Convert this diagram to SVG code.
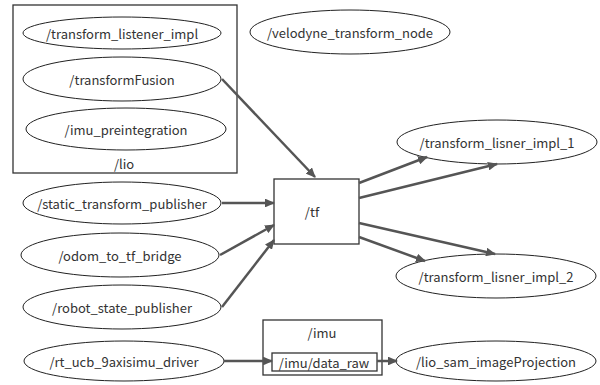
<svg xmlns="http://www.w3.org/2000/svg" width="600" height="385" viewBox="0 0 600 385">
<style>
text{font-family:"Noto Sans CJK JP","Noto Sans",sans-serif;font-size:13px;fill:#333;text-anchor:middle;dominant-baseline:central}
.n{fill:#fff;stroke:#222;stroke-width:1}
.b{fill:none;stroke:#333;stroke-width:1.3}
.t{fill:#fff;stroke:#333;stroke-width:1.3}
.e{fill:none;stroke:#555;stroke-width:2.5;marker-end:url(#a)}
</style>
<defs>
<marker id="a" viewBox="0 0 10 10" refX="9" refY="5" markerWidth="4" markerHeight="3.5" orient="auto" markerUnits="strokeWidth" preserveAspectRatio="none">
<path d="M0,0L10,5L0,10z" fill="#555"/>
</marker>
</defs>
<rect width="600" height="385" fill="#fff"/>
<g id="cluster_lio">
<rect class="b" x="13" y="5" width="224" height="168"/>
<text x="124" y="163">/lio</text>
</g>
<g id="cluster_imu">
<rect class="b" x="263" y="320" width="119" height="55"/>
<text x="322" y="332">/imu</text>
</g>
<g id="n_transform_listener_impl"><ellipse class="n" cx="122" cy="33" rx="99" ry="16"/><text x="122" y="33">/transform_listener_impl</text></g>
<g id="n_transformFusion"><ellipse class="n" cx="122" cy="79" rx="99" ry="22"/><text x="122" y="79">/transformFusion</text></g>
<g id="n_imu_preintegration"><ellipse class="n" cx="126" cy="129" rx="100" ry="21"/><text x="126" y="129">/imu_preintegration</text></g>
<g id="n_velodyne_transform_node"><ellipse class="n" cx="350" cy="32" rx="100" ry="22"/><text x="350" y="32">/velodyne_transform_node</text></g>
<g id="n_static_transform_publisher"><ellipse class="n" cx="122" cy="203" rx="99" ry="21"/><text x="122" y="203">/static_transform_publisher</text></g>
<g id="n_odom_to_tf_bridge"><ellipse class="n" cx="120" cy="255" rx="99" ry="22"/><text x="120" y="255">/odom_to_tf_bridge</text></g>
<g id="n_robot_state_publisher"><ellipse class="n" cx="122" cy="307" rx="99" ry="22"/><text x="122" y="307">/robot_state_publisher</text></g>
<g id="n_rt_ucb_9axisimu_driver"><ellipse class="n" cx="124" cy="361" rx="100" ry="20"/><text x="124" y="361">/rt_ucb_9axisimu_driver</text></g>
<g id="n_tf"><rect class="t" x="274" y="179" width="85" height="65"/><text x="312" y="211">/tf</text></g>
<g id="n_transform_lisner_impl_1"><ellipse class="n" cx="497" cy="142" rx="100" ry="22"/><text x="497" y="142">/transform_lisner_impl_1</text></g>
<g id="n_transform_lisner_impl_2"><ellipse class="n" cx="496" cy="276" rx="100" ry="22"/><text x="496" y="276">/transform_lisner_impl_2</text></g>
<g id="n_imu_data_raw"><rect class="t" x="272" y="353" width="105" height="18"/><text x="324" y="362">/imu/data_raw</text></g>
<g id="n_lio_sam_imageProjection"><ellipse class="n" cx="496" cy="361" rx="100" ry="20"/><text x="496" y="361">/lio_sam_imageProjection</text></g>
<g id="edges">
<path class="e" d="M222,79L315,177"/>
<path class="e" d="M222,203L274,203"/>
<path class="e" d="M220,255L274,225"/>
<path class="e" d="M222,307L274,240"/>
<path class="e" d="M359,183L427,157"/>
<path class="e" d="M359,198L497,164"/>
<path class="e" d="M359,223L495,254"/>
<path class="e" d="M359,237L425,261"/>
<path class="e" d="M224,361L272,361"/>
<path class="e" d="M377,361L397,361"/>
</g>
</svg>
